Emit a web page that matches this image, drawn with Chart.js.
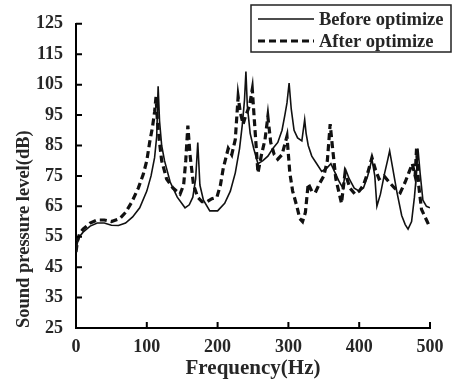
<!DOCTYPE html>
<html>
<head>
<meta charset="utf-8">
<script src="https://cdn.jsdelivr.net/npm/chart.js@4"></script>
<style>
  html, body { margin: 0; padding: 0; background: #fff; }
  #wrap { width: 456px; height: 381px; }
</style>
</head>
<body>
<div id="wrap"><canvas id="myChart" width="456" height="381"></canvas></div>
<script>
// Before optimize (solid line): frequency (Hz) and sound pressure level (dB)
const freqBefore = [0, 2, 5, 10, 20, 30, 40, 50, 60, 70, 80, 90, 100, 106, 111, 114, 116, 118, 121, 125,
  133, 143, 154, 160, 165, 169, 172, 175, 180, 189, 200, 210, 218, 225, 231, 235, 238, 240, 242, 246,
  251, 257, 264, 271, 278, 285, 291, 295, 298, 301, 304, 308, 313, 319, 323, 325, 328, 333, 340, 347,
  354, 360, 366, 372, 377, 381, 386, 393, 400, 406, 412, 418, 422, 425, 430, 436, 440, 443, 447, 453,
  460, 465, 469, 474, 478, 481, 483, 486, 490, 495, 500];
const splBefore = [50.5, 53, 55, 56.5, 58.5, 59.5, 59.5, 58.8, 58.7, 59.5, 61.5, 64.5, 70, 75, 81, 88, 104.5, 93, 85, 80,
  73, 68, 64.5, 65.5, 68, 74, 86, 72, 67, 63.5, 63.5, 66, 70, 76, 84, 92, 100, 109.3, 98, 89,
  84, 79, 80, 81.5, 84, 86, 90, 95, 99, 105.5, 97, 90, 87.5, 86.5, 93.5, 89, 85, 81.5, 79, 76.5,
  77.5, 79, 76, 73, 71, 77, 74, 71, 70, 71, 75, 80.5, 75, 65, 69, 76, 80, 83.2, 78, 70,
  62, 59, 57.5, 60, 68, 76, 84, 76, 67, 65, 64.5];

// After optimize (dashed line)
const freqAfter = [0, 2, 5, 10, 20, 30, 40, 50, 62, 70, 79, 88, 95, 100, 104, 108, 111, 113, 115, 118,
  121, 128, 137, 147, 152, 155, 158, 161, 166, 172, 178, 185, 192, 199, 204, 208, 215, 220, 225, 229,
  232, 236, 240, 245, 249, 252, 257, 262, 267, 271, 275, 280, 285, 291, 298, 302, 306, 309, 313, 316,
  320, 324, 328, 333, 338, 344, 350, 355, 359, 362, 367, 371, 375, 380, 387, 394, 400, 406, 412, 418,
  423, 428, 435, 442, 450, 458, 465, 470, 475, 479, 481, 484, 488, 492, 496, 500];
const splAfter = [50, 53.5, 56, 57.5, 59.5, 60.5, 60.5, 60, 61, 63, 66.5, 71, 75.5, 80, 86, 91, 96, 101, 93, 86,
  80, 74, 71, 69, 72, 80, 91.5, 82, 72, 68, 66.5, 66.5, 67.5, 68, 72, 77.5, 84, 82, 87, 101,
  96, 92, 95, 98, 103.5, 93, 76, 82, 87, 94.5, 86, 82, 80.5, 82, 88, 76, 70, 67.5, 64, 61,
  60, 63, 72.5, 70, 69.5, 72.5, 75, 80, 92, 85, 74, 70, 66, 76, 71, 69, 70, 72, 76, 81,
  77, 74, 75, 73, 71, 69.5, 73, 76, 79, 75, 84, 72, 64, 62, 60, 58];

const seriesNames = ['Before optimize', 'After optimize'];
const xTicks = [0, 100, 200, 300, 400, 500];
const yTicks = [25, 35, 45, 55, 65, 75, 85, 95, 105, 115, 125];

const txtColor = '#262626';
const serif = "'Liberation Serif', 'Times New Roman', serif";

function toPoints(xs, ys) {
  return xs.map((x, i) => ({ x: x, y: ys[i] }));
}

// draws the small tick marks pointing into the plot
const inwardTicks = {
  id: 'inwardTicks',
  afterDraw(chart) {
    const ctx = chart.ctx;
    const xs = chart.scales.x, ys = chart.scales.y;
    ctx.save();
    ctx.strokeStyle = '#000';
    ctx.lineWidth = 2;
    ctx.beginPath();
    xTicks.forEach(v => {
      const px = xs.getPixelForValue(v);
      ctx.moveTo(px, ys.bottom);
      ctx.lineTo(px, ys.bottom - 6);
    });
    yTicks.forEach(v => {
      const py = ys.getPixelForValue(v);
      ctx.moveTo(xs.left, py);
      ctx.lineTo(xs.left + 6, py);
    });
    ctx.stroke();
    ctx.restore();
  }
};

// boxed legend in the top right corner
const boxLegend = {
  id: 'boxLegend',
  afterDraw(chart) {
    const ctx = chart.ctx;
    ctx.save();
    ctx.fillStyle = '#fff';
    ctx.fillRect(251, 5, 200, 47);
    ctx.strokeStyle = '#222';
    ctx.lineWidth = 1.5;
    ctx.strokeRect(251, 5, 200, 47);
    chart.data.datasets.forEach((ds, i) => {
      const y = 19 + i * 22;
      ctx.strokeStyle = ds.borderColor;
      ctx.lineWidth = ds.borderWidth;
      ctx.setLineDash(ds.borderDash || []);
      ctx.beginPath();
      ctx.moveTo(258, y);
      ctx.lineTo(314, y);
      ctx.stroke();
      ctx.setLineDash([]);
      ctx.fillStyle = txtColor;
      ctx.font = 'bold 18.5px ' + serif;
      ctx.textBaseline = 'middle';
      ctx.fillText(ds.label, 319, y + 1);
    });
    ctx.restore();
  }
};

window.onload = function() {
  const ctx = document.getElementById('myChart').getContext('2d');
  new Chart(ctx, {
    type: 'line',
    data: {
      datasets: [{
        label: seriesNames[0],
        data: toPoints(freqBefore, splBefore),
        borderColor: '#111',
        borderWidth: 1.6,
        pointRadius: 0,
        tension: 0,
        fill: false
      }, {
        label: seriesNames[1],
        data: toPoints(freqAfter, splAfter),
        borderColor: '#111',
        borderWidth: 3.2,
        borderDash: [7, 4],
        pointRadius: 0,
        tension: 0,
        fill: false
      }]
    },
    options: {
      responsive: false,
      animation: false,
      events: [],
      layout: { padding: { left: 0, top: 22, right: 26, bottom: 0 } },
      plugins: { legend: { display: false }, tooltip: { enabled: false } },
      scales: {
        x: {
          type: 'linear',
          min: 0, max: 500,
          afterBuildTicks: s => { s.ticks = xTicks.map(v => ({ value: v })); },
          afterFit: s => { s.height = 53; },
          grid: { display: false, drawTicks: false },
          border: { display: true, color: '#000', width: 2 },
          ticks: { color: txtColor, padding: 9, maxRotation: 0, font: { family: serif, size: 18, weight: 'bold' } },
          title: {
            display: true, text: 'Frequency(Hz)', color: txtColor,
            padding: { top: 0, bottom: 0 },
            font: { family: serif, size: 21, weight: 'bold' }
          }
        },
        y: {
          min: 25, max: 125,
          afterBuildTicks: s => { s.ticks = yTicks.map(v => ({ value: v })); },
          afterFit: s => { s.width = 76; },
          grid: { display: false, drawTicks: false },
          border: { display: true, color: '#000', width: 2 },
          ticks: { color: txtColor, padding: 13, font: { family: serif, size: 18, weight: 'bold' } },
          title: {
            display: true, text: 'Sound pressure level(dB)', color: txtColor,
            align: 'start',
            padding: { top: 13, bottom: 0 },
            font: { family: serif, size: 18.5, weight: 'bold' }
          }
        }
      }
    },
    plugins: [inwardTicks, boxLegend]
  });
};
</script>
</body>
</html>
